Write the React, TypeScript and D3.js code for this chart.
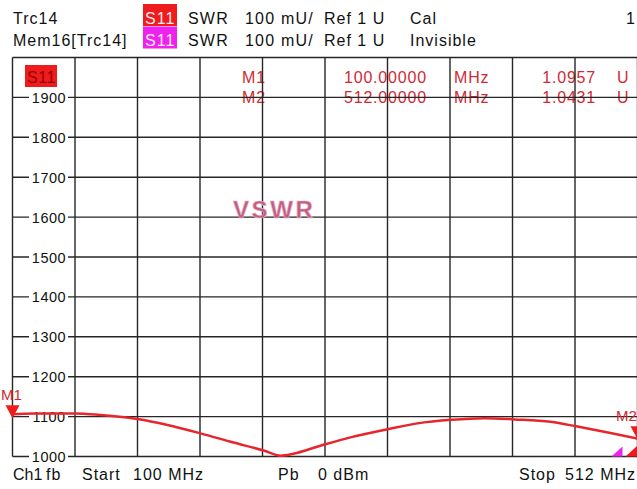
import React from "react";
import { curveMonotoneX, line, range, scaleLinear } from "d3";

// VSWR trace (mU), start 100 MHz / stop 512 MHz
const freqMHz = [
  100, 113.8, 141.5, 158, 182.4, 202.2, 223.9, 245.7, 265.5, 276.7, 285.2,
  303, 322.8, 347.9, 366.9, 389.4, 411.1, 430.9, 454.7, 472.4, 494.2, 512,
];
const swrMilli = [
  1106, 1108, 1108, 1104, 1094, 1079, 1058, 1035, 1015, 1002, 1007, 1027,
  1048, 1069, 1083, 1092, 1096, 1093, 1087, 1075, 1059, 1045,
];

const yTicks = [1000, 1100, 1200, 1300, 1400, 1500, 1600, 1700, 1800, 1900];

const markerNames = ["M1", "M2"];
const markerFreqs = [100, 512];
const markerValues = [1.0957, 1.0431];

const traceNames = ["Trc14", "Mem16[Trc14]"];
const traceStates = ["Cal", "Invisible"];

const W = 637;
const H = 489;
const FONT = "'Liberation Sans', Arial, sans-serif";
const RED = "#ee1c1c";
const MAGENTA = "#ee22ee";
const TRACE = "#e6262b";
const MARK_TXT = "#d02a34";
const GRID = "#262626";

const startF = 100;
const stopF = 512;

export default function App() {
  const x = scaleLinear().domain([startF, stopF]).range([12.5, 637.5]);
  const y = scaleLinear().domain([1000, 2000]).range([456.5, 57.5]);

  const pts = freqMHz.map((f, i) => ({ f, v: swrMilli[i] }));
  const trace = line<{ f: number; v: number }>()
    .x((d) => x(d.f))
    .y((d) => y(d.v))
    .curve(curveMonotoneX);

  const vLines = range(0, 11).map((i) => startF + ((stopF - startF) * i) / 10);
  const hLines = range(1000, 2001, 100);

  const txt = { fontFamily: FONT, fontSize: 16, letterSpacing: 1 } as const;

  return (
    <svg
      width={W}
      height={H}
      style={{ position: "absolute", left: 0, top: 0, background: "#fff" }}
    >
      <rect x={0} y={0} width={W} height={H} fill="#fff" />

      {/* header */}
      {traceNames.map((n, i) => (
        <g key={n}>
          <text x={13} y={24 + i * 22} {...txt} fill="#111">
            {n}
          </text>
          <rect
            x={143}
            y={4 + i * 22.5}
            width={34}
            height={22}
            fill={i === 0 ? RED : MAGENTA}
          />
          <text x={145} y={24 + i * 22} {...txt} fill="#fbe8f0">
            S11
          </text>
          <text x={188} y={24 + i * 22} {...txt} letterSpacing={1.2} fill="#111">
            SWR
          </text>
          <text x={245} y={24 + i * 22} {...txt} letterSpacing={1.2} fill="#111">
            100 mU/
          </text>
          <text x={324} y={24 + i * 22} {...txt} fill="#111">
            Ref 1 U
          </text>
          <text x={410} y={24 + i * 22} {...txt} fill="#111">
            {traceStates[i]}
          </text>
        </g>
      ))}
      <text x={626} y={24} fontFamily={FONT} fontSize={16} fill="#111">
        1
      </text>

      {/* marker readout */}
      {markerNames.map((m, i) => (
        <g key={m} fill={MARK_TXT} style={{ fontFamily: FONT, fontSize: 16 }}>
          <text x={242} y={83 + i * 20} letterSpacing={0.8}>
            {m}
          </text>
          <text x={344} y={83 + i * 20} letterSpacing={0.8}>
            {markerFreqs[i].toFixed(5)}
          </text>
          <text x={454} y={83 + i * 20} letterSpacing={0.8}>
            MHz
          </text>
          <text x={596} y={83 + i * 20} textAnchor="end" letterSpacing={0.8}>
            {markerValues[i].toFixed(4)}
          </text>
          <text x={617} y={83 + i * 20}>
            U
          </text>
        </g>
      ))}

      {/* grid */}
      <g stroke={GRID} strokeWidth={1.4}>
        {hLines.map((v) => (
          <line key={v} x1={x(startF)} x2={x(stopF)} y1={y(v)} y2={y(v)} />
        ))}
        {vLines.map((f) => (
          <line key={f} x1={x(f)} x2={x(f)} y1={y(1000)} y2={y(2000)} />
        ))}
      </g>

      {/* y labels */}
      {yTicks.map((t) => (
        <g key={t}>
          <rect x={29} y={y(t) - 8} width={39} height={16} fill="#fff" />
          <text
            x={49}
            y={y(t) + 5.5}
            textAnchor="middle"
            fontFamily={FONT}
            fontSize={14.5}
            letterSpacing={0.5}
            fill="#111"
          >
            {t}
          </text>
        </g>
      ))}

      {/* S11 tag in plot */}
      <rect x={25} y={65} width={32} height={22} fill={RED} />
      <text x={27} y={83} fontFamily={FONT} fontSize={16} letterSpacing={0.5} fill="#9a0000">
        S11
      </text>

      {/* VSWR label */}
      <text
        x={233}
        y={218}
        fontFamily={FONT}
        fontSize={24}
        fontWeight="bold"
        letterSpacing={2.6}
        fill="#c45d82"
        stroke="#e7b3c6"
        strokeWidth={0.6}
      >
        VSWR
      </text>

      {/* trace */}
      <path d={trace(pts) ?? ""} fill="none" stroke={TRACE} strokeWidth={2.5} />

      {/* markers */}
      {markerFreqs.map((f, i) => {
        const mx = x(f);
        const my = y(markerValues[i] * 1000);
        return (
          <g key={markerNames[i]}>
            <path
              d={`M${mx},${my} L${mx - 7},${my - 13} L${mx + 7},${my - 13} Z`}
              fill={RED}
            />
            <text
              x={i === 0 ? 1 : mx - 21.5}
              y={my - 18}
              fontFamily={FONT}
              fontSize={15}
              fill={MARK_TXT}
            >
              {markerNames[i]}
            </text>
          </g>
        );
      })}

      {/* stop indicators */}
      <path
        d={`M${x(stopF) - 26},${y(1000)} L${x(stopF) - 15},${y(1000)} L${x(stopF) - 15},${y(1000) - 10} Z`}
        fill={MAGENTA}
      />
      <path
        d={`M${x(stopF) - 12},${y(1000)} L${x(stopF)},${y(1000)} L${x(stopF)},${y(1000) - 11} Z`}
        fill={RED}
      />

      {/* footer */}
      <g {...txt} fill="#111">
        <text x={13} y={480} letterSpacing={0}>Ch1</text>
        <text x={46} y={480}>fb</text>
        <text x={82} y={480}>Start</text>
        <text x={133} y={480}>100 MHz</text>
        <text x={278} y={480}>Pb</text>
        <text x={318} y={480}>0 dBm</text>
        <text x={519} y={480}>Stop</text>
        <text x={565} y={480}>512 MHz</text>
      </g>
    </svg>
  );
}
